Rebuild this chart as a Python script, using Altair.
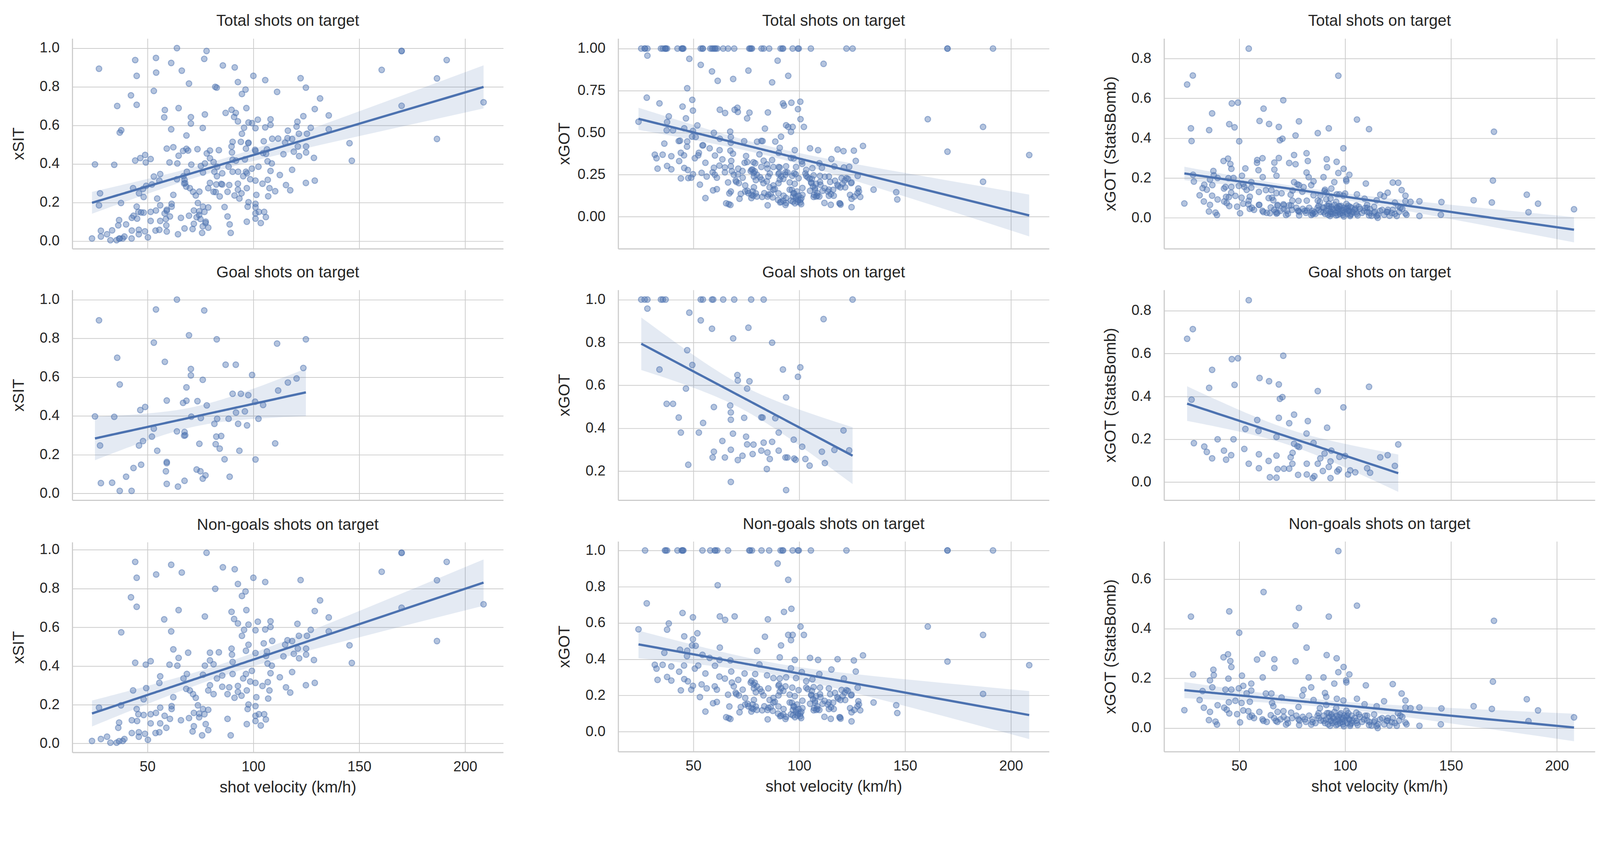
import altair as alt
import pandas as pd

BLUE = "#4c72b0"
FONT = "Liberation Sans"
XDOM = [14.5, 218.0]
XTICKS = [50, 100, 150, 200]
ROW_TITLES = ["Total shots on target", "Goal shots on target", "Non-goals shots on target"]
Y_TITLES = ["xSIT", "xGOT", "xGOT (StatsBomb)"]
X_TITLE = "shot velocity (km/h)"

# ---- xSIT: [velocity, value] ----
SIT_GOALS = [[27.1,0.893],[25.2,0.397],[34.3,0.395],[35.7,0.70],[36.9,0.562],[27.6,0.247],[28.0,0.053],[33.3,0.055],
[36.9,0.013],[42.5,0.013],[39.9,0.086],[43.4,0.131],[47.0,0.148],[46.0,0.247],[47.9,0.27],[46.6,0.43],[48.9,0.446],
[53.0,0.778],[54.0,0.949],[63.9,1.0],[58.2,0.679],[59.1,0.479],[53.0,0.334],[52.1,0.293],[54.6,0.22],[59.1,0.162],
[59.1,0.156],[58.7,0.114],[59.1,0.049],[64.4,0.035],[67.5,0.065],[63.9,0.32],[67.5,0.317],[67.8,0.30],[67.3,0.298],
[66.8,0.467],[68.4,0.478],[68.4,0.547],[69.6,0.816],[70.5,0.642],[70.5,0.609],[70.7,0.396],[73.6,0.476],[75.2,0.389],
[76.1,0.586],[76.8,0.944],[78.0,0.454],[74.5,0.256],[73.2,0.123],[75.0,0.114],[76.1,0.076],[77.4,0.093],[81.6,0.359],
[82.9,0.385],[82.5,0.293],[84.8,0.296],[82.2,0.254],[84.1,0.231],[86.4,0.176],[82.7,0.795],[86.9,0.664],[91.7,0.664],
[88.3,0.385],[88.8,0.086],[90.2,0.514],[94.1,0.514],[97.6,0.507],[91.8,0.417],[92.8,0.359],[96.0,0.423],[97.0,0.351],
[93.4,0.22],[99.4,0.611],[100.8,0.473],[104.6,0.456],[102.4,0.385],[101.0,0.175],[110.3,0.258],[111.2,0.773],
[111.7,0.531],[116.3,0.572],[120.4,0.593],[123.6,0.647],[124.8,0.795]]

SIT_MISSES = [[77.9,0.985],[44.2,0.938],[61.2,0.923],[85.6,0.91],[91.2,0.90],[66.2,0.883],[54.1,0.873],[44.9,0.856],
[100.0,0.856],[105.6,0.834],[122.3,0.844],[92.7,0.824],[82.0,0.799],[96.3,0.785],[94.6,0.762],[42.2,0.755],[131.5,0.739],
[44.9,0.706],[64.7,0.689],[96.7,0.689],[89.7,0.68],[129.0,0.684],[77.1,0.656],[90.9,0.643],[92.7,0.62],[135.6,0.651],
[57.9,0.641],[102.1,0.629],[108.1,0.631],[108.1,0.602],[120.8,0.618],[97.7,0.614],[95.6,0.587],[101.0,0.585],
[105.6,0.589],[127.1,0.587],[135.6,0.579],[37.6,0.574],[61.2,0.579],[94.6,0.556],[121.5,0.556],[125.3,0.556],
[104.9,0.517],[108.9,0.53],[116.1,0.533],[118.3,0.529],[115.0,0.51],[97.7,0.51],[62.2,0.486],[69.2,0.469],[89.7,0.49],
[79.5,0.469],[83.7,0.471],[96.5,0.479],[101.0,0.467],[106.4,0.475],[121.0,0.49],[124.9,0.49],[119.1,0.463],
[124.9,0.459],[121.6,0.44],[128.6,0.431],[114.2,0.45],[106.0,0.452],[89.9,0.459],[64.7,0.442],[44.2,0.417],
[49.2,0.407],[51.5,0.425],[60.4,0.407],[64.1,0.402],[77.1,0.402],[79.5,0.429],[81.2,0.409],[90.2,0.421],[106.7,0.413],
[108.7,0.402],[108.1,0.363],[118.3,0.369],[112.5,0.342],[99.3,0.375],[96.5,0.359],[90.2,0.359],[85.3,0.351],
[82.8,0.336],[76.2,0.355],[68.6,0.359],[67.0,0.336],[56.0,0.347],[55.6,0.313],[95.2,0.336],[98.5,0.32],[101.0,0.313],
[106.8,0.317],[104.3,0.297],[124.8,0.301],[129.0,0.313],[115.4,0.29],[107.6,0.274],[117.4,0.263],[85.3,0.293],
[88.6,0.29],[92.7,0.297],[92.7,0.266],[94.4,0.247],[96.9,0.274],[101.4,0.239],[107.0,0.232],[91.1,0.236],[87.8,0.255],
[79.5,0.301],[78.7,0.274],[81.2,0.255],[70.0,0.274],[68.3,0.282],[71.5,0.255],[72.8,0.236],[62.2,0.239],[43.2,0.274],
[49.4,0.286],[48.2,0.228],[37.5,0.197],[27.1,0.185],[44.9,0.178],[61.4,0.193],[61.4,0.178],[56.0,0.185],[73.8,0.197],
[76.2,0.178],[78.7,0.174],[97.7,0.201],[101.0,0.193],[97.3,0.178],[71.9,0.158],[74.4,0.154],[76.9,0.151],[69.6,0.131],
[74.4,0.135],[87.8,0.127],[101.0,0.143],[102.6,0.151],[105.1,0.151],[105.9,0.124],[101.0,0.116],[103.5,0.093],
[96.9,0.10],[65.8,0.12],[60.6,0.127],[58.1,0.143],[54.0,0.158],[51.5,0.151],[48.2,0.147],[45.7,0.151],[42.6,0.12],
[45.1,0.116],[51.5,0.104],[56.0,0.104],[36.6,0.108],[36.2,0.081],[58.9,0.081],[71.9,0.089],[77.5,0.10],[78.7,0.069],
[71.3,0.062],[42.6,0.054],[45.9,0.058],[48.8,0.05],[53.8,0.054],[55.6,0.058],[45.9,0.035],[50.2,0.019],[75.8,0.042],
[89.3,0.042],[23.8,0.013],[28.0,0.023],[30.9,0.035],[32.5,0.004],[35.4,0.004],[36.6,0.012],[38.3,0.013],[39.1,0.023],
[145.4,0.507],[146.5,0.416],[160.6,0.887],[170.0,0.986],[170.0,0.984],[170.0,0.701],[186.7,0.843],[186.7,0.529],
[191.3,0.938],[208.7,0.719]]

# ---- xGOT ----
GOT_GOALS = [[25.4,1.0],[27.0,1.0],[28.3,1.0],[34.7,1.0],[35.6,1.0],[36.9,1.0],[53.5,1.0],[54.5,1.0],[58.8,1.0],
[59.4,1.0],[64.1,1.0],[69.3,1.0],[77.3,1.0],[83.2,1.0],[125.2,1.0],
[28.3,0.958],[48.1,0.939],[53.5,0.903],[58.8,0.864],[76.0,0.869],[68.8,0.819],[87.2,0.799],[111.5,0.909],[47.1,0.764],
[49.5,0.695],[34.0,0.674],[46.5,0.585],[37.4,0.514],[40.4,0.514],[43.1,0.45],[44.1,0.38],[52.6,0.38],[54.6,0.425],
[59.7,0.499],[67.4,0.506],[67.7,0.474],[67.7,0.44],[68.7,0.375],[70.8,0.648],[71.0,0.623],[76.5,0.619],[75.4,0.585],
[74.0,0.449],[82.1,0.451],[82.7,0.45],[88.7,0.447],[92.3,0.674],[100.5,0.684],[99.4,0.64],[93.8,0.544],[90.3,0.38],
[63.7,0.341],[74.9,0.361],[75.4,0.325],[78.4,0.324],[83.2,0.333],[87.2,0.337],[97.4,0.347],[101.4,0.314],[67.7,0.30],
[59.7,0.291],[59.1,0.264],[64.9,0.264],[71.0,0.252],[73.2,0.272],[78.0,0.28],[82.1,0.296],[85.0,0.287],[86.1,0.257],
[90.3,0.296],[93.5,0.264],[94.4,0.264],[97.6,0.259],[98.3,0.253],[102.9,0.257],[104.9,0.226],[110.7,0.291],
[112.1,0.238],[116.6,0.299],[120.9,0.39],[123.6,0.297],[47.6,0.23],[84.7,0.21],[67.7,0.15],[93.8,0.112]]

GOT_MISSES = [[27.2,1.0],[36.6,1.0],[37.0,1.0],[37.6,1.0],[42.5,1.0],[44.5,1.0],[44.8,1.0],[45.0,1.0],[45.3,1.0],
[54.3,1.0],[58.0,1.0],[60.1,1.0],[60.5,1.0],[61.3,1.0],[66.4,1.0],[76.4,1.0],[76.8,1.0],[77.7,1.0],[82.2,1.0],
[85.8,1.0],[91.2,1.0],[92.0,1.0],[92.4,1.0],[96.9,1.0],[99.4,1.0],[99.8,1.0],[105.5,1.0],[122.3,1.0],
[89.8,0.928],[94.8,0.838],[61.5,0.808],[28.0,0.708],[44.9,0.655],[49.8,0.631],[62.5,0.636],[65.0,0.617],[69.5,0.636],
[85.2,0.62],[92.8,0.661],[96.3,0.678],[24.1,0.565],[38.4,0.597],[37.6,0.563],[100.6,0.58],[45.7,0.526],[51.9,0.543],
[83.8,0.524],[94.8,0.534],[96.9,0.534],[96.1,0.505],[102.2,0.534],[49.8,0.51],[49.4,0.476],[51.1,0.474],[62.5,0.464],
[91.4,0.476],[80.1,0.446],[43.7,0.452],[47.1,0.447],[36.3,0.435],[47.0,0.417],[54.3,0.424],[130.1,0.421],[31.8,0.369],
[35.5,0.369],[39.6,0.36],[32.6,0.348],[45.6,0.365],[43.3,0.331],[50.7,0.348],[52.3,0.365],[33.1,0.286],[37.6,0.302],
[39.6,0.282],[45.7,0.29],[47.4,0.278],[53.9,0.261],[49.8,0.253],[49.0,0.232],[44.1,0.228],[53.1,0.191],
[57.7,0.407],[62.4,0.396],[67.5,0.393],[90.8,0.41],[97.9,0.396],[105.1,0.407],[108.9,0.396],[118.1,0.40],[125.8,0.393],
[60.2,0.364],[81.2,0.371],[96.1,0.35],[115.2,0.343],[126.7,0.332],
[55.7,0.321],[67.9,0.332],[74.2,0.321],[79.2,0.318],[101.2,0.329],[109.5,0.318],[121.1,0.293],
[62.3,0.304],[64.9,0.293],[68.2,0.271],[71.2,0.286],[77.1,0.271],[84.8,0.311],[87.8,0.296],[90.8,0.293],[93.8,0.30],
[98.5,0.296],[103.3,0.279],[106.2,0.289],
[56.3,0.239],[60.1,0.25],[69.1,0.25],[73.3,0.232],[78.6,0.239],[82.2,0.221],[85.4,0.239],[90.2,0.254],[90.8,0.221],
[96.7,0.243],[99.7,0.229],[103.3,0.243],[106.8,0.246],[109.8,0.243],[114.0,0.239],[116.9,0.214],[122.3,0.229],
[127.6,0.243],[124.7,0.204],
[61.1,0.232],[66.4,0.204],[70.3,0.207],[74.5,0.186],[78.6,0.175],[79.5,0.218],[83.1,0.20],[87.8,0.186],[90.2,0.20],
[95.5,0.204],[97.9,0.196],[105.6,0.204],[108.0,0.196],[109.8,0.207],[114.6,0.207],[118.4,0.182],[120.5,0.196],
[121.7,0.175],[127.9,0.168],[135.1,0.161],
[59.3,0.157],[61.1,0.164],[67.0,0.139],[72.4,0.136],[75.6,0.154],[78.3,0.125],[79.5,0.139],[82.5,0.118],[85.4,0.132],
[87.8,0.161],[90.2,0.139],[92.6,0.125],[95.5,0.161],[97.3,0.139],[99.7,0.125],[101.5,0.171],[105.1,0.154],
[107.4,0.171],[108.6,0.125],[111.0,0.154],[114.0,0.161],[116.3,0.125],[114.0,0.125],[128.2,0.15],[128.8,0.118],
[55.7,0.111],[66.7,0.075],[71.8,0.107],[77.4,0.111],[91.4,0.089],[96.1,0.096],[99.1,0.089],[100.9,0.075],[85.1,0.068],
[93.8,0.082],[106.8,0.118],[111.9,0.082],[114.9,0.071],[119.3,0.079],[124.7,0.107],[124.7,0.057],
[98.5,0.11],[100.5,0.10],[97.0,0.12],[108.0,0.12],[119.0,0.08],
[145.8,0.146],[146.3,0.103],[160.7,0.58],[170.0,1.0],[170.0,1.0],[170.0,0.387],[186.8,0.534],[186.8,0.208],
[191.5,1.0],[208.6,0.367]]

# overlapping points estimated inside the darkest part of the xGOT non-goal cloud
GOT_MISSES_DENSE = [[77.5,0.28],[78.5,0.26],[80.0,0.25],[81.5,0.235],[79.0,0.27],[90.5,0.26],[91.5,0.24],[92.5,0.225],
[93.5,0.25],[96.5,0.16],[97.5,0.14],[98.5,0.12],[99.5,0.10],[100.5,0.085],[101.5,0.13],[97.0,0.09],[99.0,0.15],
[101.0,0.11],[98.0,0.08],[105.8,0.20],[106.5,0.18],[107.5,0.16],[108.5,0.14],[109.5,0.12],[110.0,0.19],[107.0,0.13],
[120.0,0.23],[121.5,0.215],[123.0,0.225],[124.5,0.20],[118.0,0.19],[119.5,0.175],[65.5,0.08],[67.5,0.07],[90.0,0.10],
[91.0,0.085],[92.5,0.095],[93.5,0.07],[119.5,0.072],[70.0,0.215],[71.5,0.20],[74.5,0.15],[76.0,0.14],[77.5,0.13],
[80.0,0.12],[78.0,0.15],[83.5,0.14],[85.0,0.12],[86.5,0.135],[87.5,0.115],[112.0,0.17],[113.5,0.15],[115.0,0.135],
[116.0,0.16],[124.0,0.13],[126.0,0.12],[127.5,0.14],[86.0,0.175],[88.5,0.165],[104.0,0.235],[106.0,0.225]]

# ---- xGOT (StatsBomb) ----
SB_GOALS = [[54.5,0.849],[28.1,0.714],[25.4,0.669],[70.8,0.59],[46.5,0.574],[49.4,0.578],[37.2,0.524],[59.6,0.486],
[64.1,0.471],[68.7,0.456],[47.8,0.454],[35.8,0.44],[111.3,0.445],[87.1,0.425],[69.2,0.389],[70.4,0.397],[27.5,0.385],
[99.2,0.349],[75.9,0.315],[68.7,0.30],[58.5,0.29],[73.6,0.275],[82.4,0.285],[91.5,0.254],[52.9,0.248],[59.1,0.239],
[81.8,0.227],[67.6,0.211],[39.8,0.20],[47.3,0.20],[28.6,0.182],[33.5,0.166],[34.7,0.141],[42.8,0.147],[52.4,0.155],
[37.2,0.111],[43.8,0.105],[46.2,0.126],[54.5,0.086],[59.3,0.13],[59.3,0.065],[63.9,0.099],[64.5,0.023],[67.6,0.021],
[67.6,0.124],[68.1,0.061],[71.1,0.063],[73.6,0.063],[74.3,0.116],[75.1,0.086],[75.2,0.137],[75.9,0.179],[77.5,0.168],
[78.3,0.164],[77.8,0.034],[81.9,0.086],[81.9,0.036],[84.7,0.019],[85.1,0.183],[85.5,0.028],[87.1,0.086],[88.3,0.111],
[89.5,0.052],[90.3,0.134],[92.3,0.071],[93.1,0.097],[93.5,0.147],[93.1,0.019],[96.3,0.05],[97.1,0.059],[97.3,0.118],
[100.0,0.122],[101.4,0.036],[102.4,0.055],[104.8,0.046],[110.4,0.065],[111.8,0.044],[116.6,0.116],[120.1,0.126],
[123.5,0.076],[125.1,0.176]]

SB_MISSES = [[96.8,0.713],[61.5,0.548],[105.6,0.493],[78.2,0.484],[45.3,0.47],[27.2,0.449],[92.3,0.449],[76.6,0.413],
[50.0,0.384],[81.8,0.324],[44.7,0.297],[42.6,0.285],[45.8,0.27],[46.3,0.246],[58.4,0.276],[61.0,0.299],[66.6,0.277],
[66.6,0.242],[76.6,0.269],[91.3,0.294],[96.0,0.281],[99.3,0.246],[96.8,0.225],[102.0,0.216],[100.5,0.192],[28.2,0.216],
[37.8,0.235],[38.0,0.213],[36.2,0.192],[37.3,0.164],[44.9,0.199],[51.3,0.211],[61.1,0.204],[51.9,0.17],[49.8,0.16],
[43.5,0.155],[46.3,0.155],[32.7,0.149],[53.5,0.14],[82.8,0.204],[89.8,0.204],[51.1,0.101],[48.2,0.11],[45.1,0.104],
[31.3,0.113],[39.8,0.092],[33.3,0.082],[24.1,0.072],[36.2,0.065],[42.9,0.082],[44.1,0.074],[45.3,0.059],[49.0,0.056],
[51.9,0.071],[54.3,0.068],[35.7,0.032],[38.8,0.026],[39.5,0.014],[50.4,0.023],
[55.7,0.179],[55.7,0.151],[84.0,0.164],[80.4,0.154],[94.9,0.179],[100.6,0.184],[109.8,0.172],[122.5,0.177],
[62.6,0.139],[65.2,0.139],[70.0,0.123],[79.8,0.131],[90.5,0.141],[91.1,0.126],[85.1,0.113],[96.1,0.118],[99.2,0.111],
[105.6,0.118],[126.7,0.139],[128.5,0.111],[118.4,0.108],
[55.0,0.106],[66.1,0.088],[65.5,0.101],[78.0,0.085],[88.1,0.08],[91.1,0.093],[95.8,0.08],[100.6,0.07],[109.2,0.096],
[114.9,0.088],[128.5,0.083],[130.9,0.08],[135.1,0.083],
[59.5,0.065],[64.9,0.052],[70.9,0.068],[74.5,0.062],[56.0,0.05],[92.3,0.06],[97.6,0.055],[105.3,0.062],[113.7,0.055],
[125.0,0.06],[126.1,0.05],
[61.4,0.029],[67.3,0.029],[72.6,0.035],[78.0,0.035],[81.0,0.035],[84.6,0.024],[87.5,0.04],[89.9,0.029],[93.5,0.029],
[96.4,0.035],[98.8,0.024],[101.8,0.035],[105.3,0.029],[108.9,0.035],[113.7,0.024],[114.9,0.009],[119.6,0.029],
[122.0,0.024],[128.5,0.022],
[72.1,0.014],[78.3,0.012],[84.0,0.014],[92.9,0.009],[95.8,0.012],[99.4,0.007],[102.4,0.009],[105.9,0.012],
[111.3,0.012],[115.4,0.0],[124.4,0.009],[135.1,0.009],
[68.1,0.065],[87.5,0.06],[110.4,0.05],[120.2,0.04],[97.0,0.03],[99.0,0.04],[103.0,0.02],[94.0,0.045],[101.0,0.05],
[145.5,0.079],[145.2,0.015],[160.7,0.088],[170.3,0.432],[169.8,0.187],[169.3,0.077],[185.8,0.116],[186.6,0.028],
[191.1,0.071],[208.1,0.043]]

# overlapping points estimated inside the dark band of the StatsBomb non-goal cloud
SB_MISSES_DENSE = [[90.0,0.05],[90.5,0.02],[91.0,0.035],[91.5,0.06],[92.0,0.015],[92.5,0.045],[93.0,0.03],[93.5,0.055],
[94.0,0.02],[94.5,0.04],[95.0,0.065],[95.5,0.025],[96.0,0.05],[96.5,0.015],[97.0,0.045],[97.5,0.02],[98.0,0.06],
[98.5,0.035],[99.0,0.015],[99.5,0.05],[100.0,0.03],[100.5,0.045],[101.0,0.02],[101.5,0.06],[102.0,0.035],
[102.5,0.015],[103.0,0.05],[103.5,0.03],[66.5,0.04],[68.0,0.025],[69.5,0.035],[77.0,0.05],[78.5,0.03],[80.0,0.045],
[81.5,0.025],[117.5,0.04],[118.5,0.015],[120.0,0.03],[121.0,0.01],[122.5,0.04],[123.5,0.02],[111.5,0.025],
[112.5,0.01],[114.0,0.03],[115.5,0.015],[116.5,0.035],[107.0,0.045],[108.0,0.025],[109.5,0.05],[110.5,0.03],
[55.0,0.045],[57.0,0.04],[61.0,0.035],[63.0,0.025],[71.0,0.045],[73.0,0.02],[75.0,0.04],[83.0,0.05],[84.5,0.035],
[86.0,0.02],[87.0,0.05],[88.5,0.03],[104.5,0.04],[105.5,0.02],[106.5,0.055],[125.5,0.03],[127.0,0.045],[129.0,0.015]]

# y-scale domains / ticks per panel (rows: total, goals, non-goals)
Y_DOMAINS = {
    0: [[-0.04, 1.05], [-0.035, 1.05], [-0.046, 1.04]],
    1: [[-0.19, 1.06], [0.065, 1.045], [-0.11, 1.05]],
    2: [[-0.155, 0.90], [-0.084, 0.897], [-0.095, 0.752]],
}
Y_TICKS = {
    0: [[0, 0.2, 0.4, 0.6, 0.8, 1.0]] * 3,
    1: [[0, 0.25, 0.5, 0.75, 1.0], [0.2, 0.4, 0.6, 0.8, 1.0], [0, 0.2, 0.4, 0.6, 0.8, 1.0]],
    2: [[0, 0.2, 0.4, 0.6, 0.8], [0, 0.2, 0.4, 0.6, 0.8], [0, 0.2, 0.4, 0.6]],
}
Y_FORMATS = {0: [".1f"] * 3, 1: [".2f", ".1f", ".1f"], 2: [".1f"] * 3}

GOT_ALL_MISSES = GOT_MISSES + GOT_MISSES_DENSE
SB_ALL_MISSES = SB_MISSES + SB_MISSES_DENSE
DATA = {
    0: [SIT_GOALS + SIT_MISSES, SIT_GOALS, SIT_MISSES],
    1: [GOT_GOALS + GOT_ALL_MISSES, GOT_GOALS, GOT_ALL_MISSES],
    2: [SB_GOALS + SB_ALL_MISSES, SB_GOALS, SB_ALL_MISSES],
}

W, H = 1140, 556
YEXT = 112


def panel(points, title, ytitle, ydom, yticks, yfmt, bottom):
    df = pd.DataFrame(points, columns=["v", "y"])
    if bottom:
        xax = alt.Axis(values=XTICKS, title=X_TITLE, labels=True, ticks=False, grid=True,
                       labelPadding=20, titlePadding=14)
    else:
        xax = alt.Axis(values=XTICKS, title=None, labels=False, ticks=False, grid=True)
    xs = alt.Scale(domain=XDOM, nice=False, zero=False)
    ys = alt.Scale(domain=ydom, nice=False, zero=False)
    yax = alt.Axis(values=yticks, format=yfmt, title=ytitle, ticks=False, grid=True,
                   labelPadding=34, titlePadding=8, minExtent=YEXT, maxExtent=YEXT)
    x = alt.X("v:Q", scale=xs, axis=xax)
    base = alt.Chart(df)
    pts = base.mark_circle(size=230, color=BLUE, fillOpacity=0.42, stroke=BLUE,
                           strokeOpacity=0.5, strokeWidth=2.5, clip=True).encode(
        x=x, y=alt.Y("y:Q", scale=ys, axis=yax))
    fit = (base
           .transform_joinaggregate(mx="mean(v)", my="mean(y)", n="count()")
           .transform_calculate(dxx="(datum.v-datum.mx)*(datum.v-datum.mx)",
                                dxy="(datum.v-datum.mx)*(datum.y-datum.my)")
           .transform_joinaggregate(sxx="sum(dxx)", sxy="sum(dxy)")
           .transform_calculate(b="datum.sxy/datum.sxx")
           .transform_calculate(fit="datum.my + datum.b*(datum.v-datum.mx)")
           .transform_calculate(r2="pow(datum.y-datum.fit, 2)")
           .transform_joinaggregate(sse="sum(r2)")
           .transform_calculate(se="sqrt(datum.sse/(datum.n-2))*sqrt(1/datum.n + datum.dxx/datum.sxx)")
           .transform_calculate(lo="datum.fit - 1.97*datum.se", hi="datum.fit + 1.97*datum.se"))
    band = fit.mark_area(color=BLUE, opacity=0.15, clip=True).encode(
        x=x, y=alt.Y("lo:Q", scale=ys, axis=yax), y2="hi:Q")
    line = fit.mark_line(color=BLUE, strokeWidth=6, clip=True).encode(
        x=x, y=alt.Y("fit:Q", scale=ys, axis=yax))
    return alt.layer(pts, band, line).properties(title=title, width=W, height=H)


columns = []
for c in range(3):
    cells = []
    for r in range(3):
        cells.append(panel(DATA[c][r], ROW_TITLES[r], Y_TITLES[c], Y_DOMAINS[c][r],
                           Y_TICKS[c][r], Y_FORMATS[c][r], r == 2))
    columns.append(alt.vconcat(*cells, spacing=42))

chart = (alt.hconcat(*columns, spacing=141)
         .properties(padding={"left": 20, "top": -8, "right": 5, "bottom": 5}, background="white")
         .configure_axis(labelFont=FONT, titleFont=FONT, labelFontSize=38, titleFontSize=42,
                         labelColor="#262626", titleColor="#262626", titleFontWeight="normal",
                         gridColor="#cccccc", gridWidth=2, domainColor="#cccccc", domainWidth=3)
         .configure_title(font=FONT, fontSize=42, fontWeight="normal", color="#262626", offset=24)
         .configure_view(strokeWidth=0))

chart.save("out.html", embed_options={"renderer": "svg", "actions": False})
